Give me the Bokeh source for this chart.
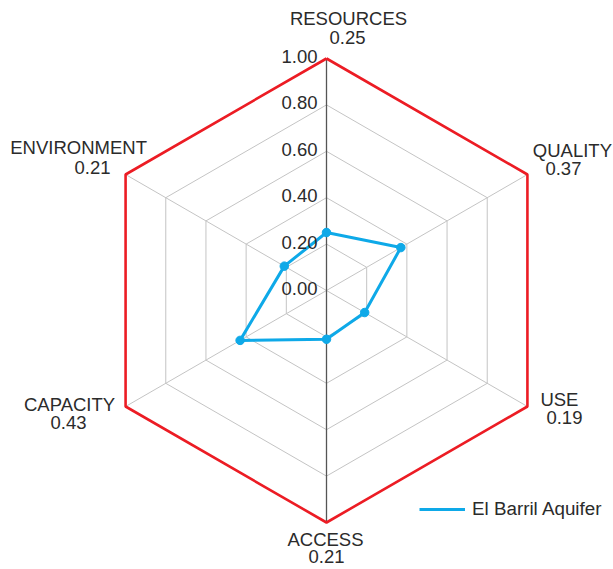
import numpy as np
from bokeh.plotting import figure
from bokeh.models import Range1d, Legend, LegendItem
from bokeh.embed import file_html
from bokeh.resources import INLINE
from bokeh.core.properties import value

# ---- data ----
categories = ["RESOURCES", "QUALITY", "USE", "ACCESS", "CAPACITY", "ENVIRONMENT"]
scores = [0.25, 0.37, 0.19, 0.21, 0.43, 0.21]
series_name = "El Barril Aquifer"
ticks = [0.0, 0.2, 0.4, 0.6, 0.8, 1.0]
tick_labels = ["0.00", "0.20", "0.40", "0.60", "0.80", "1.00"]

# ---- layout / style ----
W, H = 613, 569
OX, OY = 0, 0          # where the canvas sits in the picture
CX, CY, R = 326, 290, 232  # chart centre and radius in picture px
FONT_NAME = "Liberation Sans"
FONT = value(FONT_NAME)
FS = "18.5px"
TXT = "#2b2b2b"
RED = "#ec1c24"
BLUE = "#0ea9e8"
GRID = "#c4c4c4"

# label centre offsets in px relative to each vertex: (line1 dx, dy, line2 dx, dy)
label_off = [(22, -40, 21, -21), (45, -24, 36, -6), (32, -7, 37, 11),
             (-1, 17, 0, 34), (-56, -2, -57, 16), (-47, -27, -33, -7)]

n = len(categories)
ang = np.deg2rad(90 - 60 * np.arange(n))
cx, cy = np.cos(ang), np.sin(ang)

p = figure(width=W, height=H, output_backend="svg", toolbar_location=None,
           x_range=Range1d((OX - CX) / R, (OX + W - CX) / R),
           y_range=Range1d((CY - OY - H) / R, (CY - OY) / R),
           x_axis_location=None, y_axis_location=None, min_border=0)
p.grid.visible = False
p.outline_line_color = None

# rings
inner = [t for t in ticks if 0 < t < 1]
p.multi_line(xs=[list(np.append(cx, cx[0]) * t) for t in inner],
             ys=[list(np.append(cy, cy[0]) * t) for t in inner],
             line_color=GRID, line_width=1)
# spokes (non vertical)
idx = [i for i in range(n) if abs(cx[i]) > 1e-6]
p.segment(x0=[0] * len(idx), y0=[0] * len(idx), x1=[cx[i] for i in idx], y1=[cy[i] for i in idx],
          line_color=GRID, line_width=1)
# vertical axis
p.segment(x0=[0], y0=[-ticks[-1]], x1=[0], y1=[ticks[-1]], line_color="#555555", line_width=1.3)
# outer ring
p.line(list(np.append(cx, cx[0]) * ticks[-1]), list(np.append(cy, cy[0]) * ticks[-1]),
       line_color=RED, line_width=2.6)

# data
sv = np.array(scores)
dl = p.line(list(np.append(cx * sv, cx[0] * sv[0])), list(np.append(cy * sv, cy[0] * sv[0])),
            line_color=BLUE, line_width=3)
p.scatter(list(cx * sv), list(cy * sv), size=8.5, fill_color=BLUE, line_color=BLUE)

# tick labels
p.text(x=[0] * len(ticks), y=ticks, text=tick_labels, x_offset=-9, y_offset=-2,
       text_align="right", text_baseline="middle", text_font=FONT,
       text_font_size=FS, text_color=TXT)

# category labels
p.text(x=list(cx), y=list(cy), text=categories,
       x_offset=[o[0] for o in label_off], y_offset=[o[1] for o in label_off],
       text_align="center", text_baseline="middle", text_font=FONT,
       text_font_size=FS, text_color=TXT)
p.text(x=list(cx), y=list(cy), text=["%.2f" % s for s in scores],
       x_offset=[o[2] for o in label_off], y_offset=[o[3] for o in label_off],
       text_align="center", text_baseline="middle", text_font=FONT,
       text_font_size=FS, text_color=TXT)

legend = Legend(items=[LegendItem(label=series_name, renderers=[dl])],
                location=(419 - OX, OY + H - 520),
                border_line_alpha=0, background_fill_alpha=0, glyph_width=46, glyph_height=20,
                label_standoff=7, padding=0, margin=0, label_text_font=FONT_NAME,
                label_text_font_size="18.8px", label_text_color=TXT)
p.add_layout(legend, "center")

open("out.html", "w").write(file_html(p, INLINE))
